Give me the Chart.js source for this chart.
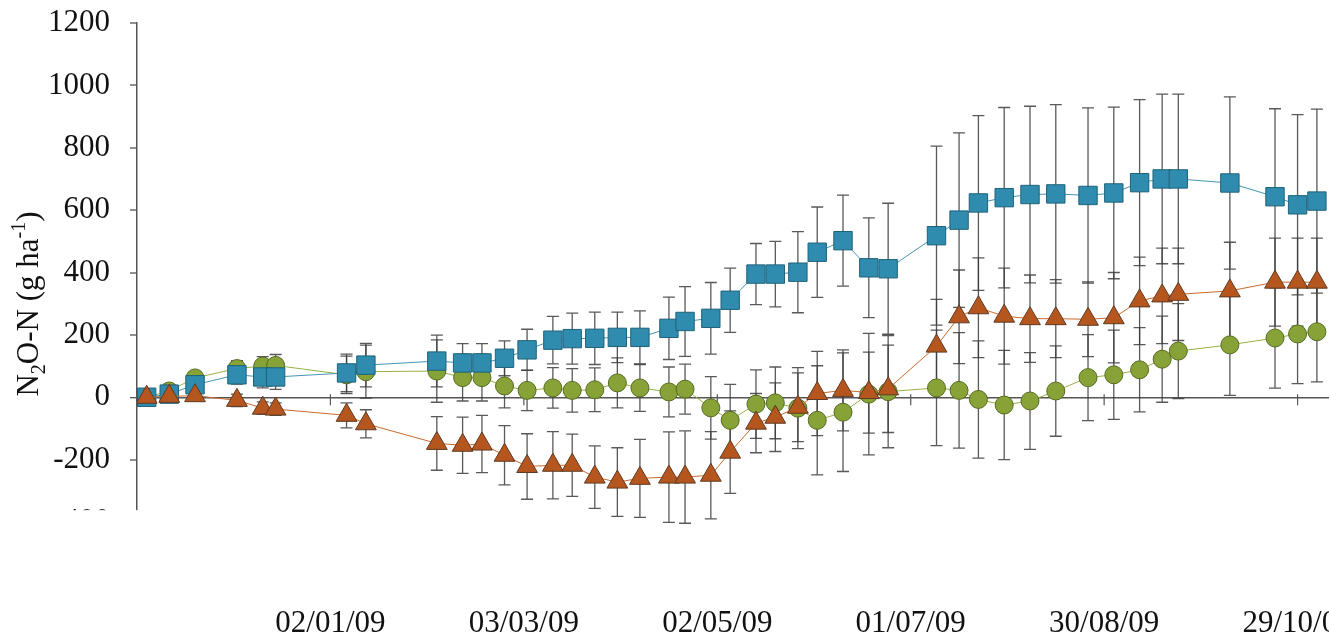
<!DOCTYPE html>
<html>
<head>
<meta charset="utf-8">
<title>N2O-N</title>
<script src="https://cdn.jsdelivr.net/npm/chart.js@4.4.1/dist/chart.umd.min.js"></script>
<style>
  html, body { margin: 0; padding: 0; background: #fff; overflow: hidden; width: 1329px; height: 638px; }
  #wrap { position: relative; width: 1700px; height: 638px; }
  canvas { display: block; }
</style>
</head>
<body>
<div id="wrap"><canvas id="chart" width="1491" height="638"></canvas></div>
<script>
// Sampling dates
const sampleDates = [
  '2008-11-06','2008-11-13','2008-11-21','2008-12-04','2008-12-12','2008-12-16',
  '2009-01-07','2009-01-13','2009-02-04','2009-02-12','2009-02-18','2009-02-25',
  '2009-03-04','2009-03-12','2009-03-18','2009-03-25','2009-04-01','2009-04-08',
  '2009-04-17','2009-04-22','2009-04-30','2009-05-06','2009-05-14','2009-05-20',
  '2009-05-27','2009-06-02','2009-06-10','2009-06-18','2009-06-24','2009-07-09',
  '2009-07-16','2009-07-22','2009-07-30','2009-08-07','2009-08-15','2009-08-25',
  '2009-09-02','2009-09-10','2009-09-17','2009-09-22','2009-10-08','2009-10-22',
  '2009-10-29','2009-11-04'
];

// Cumulative N2O-N (g ha-1), square markers
const squareValues = [
  0, 10, 40, 72, 65, 65, 78, 103, 116, 110, 110, 125,
  152, 183, 188, 189, 192, 192, 221, 243, 253, 311, 395, 395,
  401, 465, 502, 415, 412, 518, 568, 623, 640, 650, 652, 647,
  655, 688, 700, 700, 687, 643, 617, 629
];
const squareErrors = [
  10, 15, 25, 30, 35, 40, 60, 70, 83, 62, 62, 56,
  66, 76, 82, 84, 81, 85, 100, 112, 115, 103, 98, 105,
  130, 145, 146, 160, 210, 287, 280, 280, 289, 283, 286, 281,
  275, 266, 272, 272, 276, 282, 289, 295
];

// Triangle markers
const triangleValues = [
  0, 3, 5, -10, -35, -38, -58, -85, -148, -154, -150, -186,
  -222, -218, -218, -256, -272, -260, -256, -256, -250, -176, -83, -64,
  -32, 12, 22, 15, 27, 164, 258, 287, 260, 252, 252, 250,
  255, 309, 325, 330, 341, 369, 369, 369
];
const triangleErrors = [
  10, 12, 15, 20, 20, 20, 40, 45, 86, 90, 92, 95,
  105, 108, 100, 100, 110, 125, 145, 148, 140, 132, 95, 110,
  110, 135, 130, 130, 140, 150, 150, 160, 154, 140, 125, 120,
  145, 140, 153, 148, 156, 141, 141, 141
];

// Circle markers
const circleValues = [
  0, 20, 62, 92, 100, 102, 72, 82, 84, 63, 63, 36,
  22, 30, 22, 24, 46, 30, 17, 26, -34, -74, -22, -18,
  -35, -74, -48, 10, 18, 30, 22, -7, -25, -12, 20, 63,
  72, 88, 122, 148, 168, 190, 203, 210
];
const circleErrors = [
  10, 15, 20, 25, 30, 35, 60, 85, 100, 75, 75, 70,
  65, 65, 70, 70, 80, 75, 80, 80, 100, 115, 110, 115,
  130, 175, 190, 195, 180, 185, 185, 188, 175, 155, 145, 138,
  143, 135, 138, 152, 162, 161, 159, 161
];

// Date axis: labelled ticks every 60 days
const tickDates  = ['2009-01-02','2009-03-03','2009-05-02','2009-07-01','2009-08-30','2009-10-29'];
const tickLabels = ['02/01/09','03/03/09','02/05/09','01/07/09','30/08/09','29/10/09'];
const axisStart = '2008-11-03';
const axisEnd   = '2009-12-28';

// Value axis
const yMin = -400, yMax = 1200, yStep = 200;

// Axis title pieces: [text, 0 normal | -1 subscript | 1 superscript]
const yTitleParts = [['N', 0], ['2', -1], ['O-N (g ha', 0], ['-1', 1], [')', 0]];

// Plot frame: value axis width and plot width in pixels
const Y_AXIS_WIDTH = 137;
const PLOT_WIDTH = 1354;

const SERIF = "'Liberation Serif', 'Times New Roman', Times, serif";
const DAY_MS = 86400000;
const ORIGIN = Date.parse('2009-01-02');
const toDay = s => (Date.parse(s) - ORIGIN) / DAY_MS;
const points = vals => sampleDates.map((d, i) => ({ x: toDay(d), y: vals[i] }));

// Vertical error bars with caps, drawn under the series
const errorBarPlugin = {
  id: 'errorBars',
  beforeDatasetsDraw(chart) {
    const { ctx, scales: { x, y } } = chart;
    ctx.save();
    ctx.lineWidth = 1.3;
    chart.data.datasets.forEach(ds => {
      ctx.strokeStyle = ds.errorColor;
      ds.data.forEach((p, j) => {
        const e = ds.errors[j];
        const px = x.getPixelForValue(p.x);
        const yt = y.getPixelForValue(p.y + e);
        const yb = y.getPixelForValue(p.y - e);
        ctx.beginPath();
        ctx.moveTo(px, yt); ctx.lineTo(px, yb);
        ctx.moveTo(px - 6, yt); ctx.lineTo(px + 6, yt);
        ctx.moveTo(px - 6, yb); ctx.lineTo(px + 6, yb);
        ctx.stroke();
      });
    });
    ctx.restore();
  }
};

// Cross tick marks on the zero line at each date label
const zeroTicksPlugin = {
  id: 'zeroTicks',
  beforeDatasetsDraw(chart) {
    const { ctx, scales: { x, y } } = chart;
    const y0 = y.getPixelForValue(0);
    ctx.save();
    ctx.strokeStyle = '#555';
    ctx.lineWidth = 1.2;
    tickDates.forEach(d => {
      const px = x.getPixelForValue(toDay(d));
      ctx.beginPath();
      ctx.moveTo(px, y0 - 3);
      ctx.lineTo(px, y0 + 8);
      ctx.stroke();
    });
    ctx.restore();
  }
};

// Rotated y-axis title with sub/superscripts, plus the blank panel under the value axis
const decorPlugin = {
  id: 'decor',
  afterDraw(chart) {
    const { ctx, scales: { x, y } } = chart;
    // blank strip below the lower end of the value axis
    const top = y.getPixelForValue(-362);
    ctx.save();
    ctx.fillStyle = '#fff';
    ctx.fillRect(0, top, x.getPixelForValue(-30), 600 - top);
    ctx.restore();

    const fs = 31;
    const fontFor = k => (k === 0 ? fs : Math.round(fs * 0.65)) + 'px ' + SERIF;
    ctx.save();
    ctx.translate(38, 304);
    ctx.rotate(-Math.PI / 2);
    ctx.fillStyle = '#111';
    ctx.textBaseline = 'alphabetic';
    ctx.textAlign = 'left';
    let total = 0;
    yTitleParts.forEach(([t, k]) => { ctx.font = fontFor(k); total += ctx.measureText(t).width; });
    let cx = -total / 2;
    yTitleParts.forEach(([t, k]) => {
      ctx.font = fontFor(k);
      const dy = k === -1 ? fs * 0.22 : (k === 1 ? -fs * 0.42 : 0);
      ctx.fillText(t, cx, dy);
      cx += ctx.measureText(t).width;
    });
    ctx.restore();
  }
};

const common = { borderWidth: 1, tension: 0, fill: false, pointBorderWidth: 1, pointHoverRadius: 0 };

const canvas = document.getElementById('chart');
const chart = new Chart(canvas, {
  type: 'line',
  data: {
    datasets: [
      Object.assign({}, common, {
        label: 'triangles',
        data: points(triangleValues),
        errors: triangleErrors,
        errorColor: 'rgba(60,60,60,0.85)',
        borderColor: '#c96a2c',
        pointStyle: 'triangle',
        pointRadius: 12,
        pointBackgroundColor: '#b5561f',
        pointBorderColor: '#5e3a22'
      }),
      Object.assign({}, common, {
        label: 'squares',
        data: points(squareValues),
        errors: squareErrors,
        errorColor: 'rgba(60,60,60,0.85)',
        borderColor: '#4595b3',
        pointStyle: 'rect',
        pointRadius: 13,
        pointBackgroundColor: '#2f8caf',
        pointBorderColor: '#1f6279'
      }),
      Object.assign({}, common, {
        label: 'circles',
        data: points(circleValues),
        errors: circleErrors,
        errorColor: 'rgba(60,60,60,0.85)',
        borderColor: '#98b043',
        pointStyle: 'circle',
        pointRadius: 9,
        pointBackgroundColor: '#87a236',
        pointBorderColor: '#566b22'
      })
    ]
  },
  options: {
    responsive: false,
    maintainAspectRatio: false,
    animation: false,
    devicePixelRatio: 1,
    layout: { padding: { top: 23, left: 0, right: 0, bottom: 0 } },
    plugins: { legend: { display: false }, tooltip: { enabled: false }, title: { display: false } },
    scales: {
      x: {
        type: 'linear',
        position: 'bottom',
        offset: false,
        min: toDay(axisStart),
        max: toDay(axisEnd),
        afterBuildTicks: s => { s.ticks = tickDates.map(d => ({ value: toDay(d) })); },
        afterFit: s => { s.height = 116; s.paddingLeft = 0; s.paddingRight = 0; },
        grid: { display: false, drawTicks: false },
        border: { display: false },
        ticks: {
          autoSkip: false,
          maxRotation: 0,
          padding: 83,
          color: '#111',
          font: { family: SERIF, size: 31 },
          callback: (v, i) => tickLabels[i]
        }
      },
      y: {
        type: 'linear',
        min: yMin,
        max: yMax,
        afterFit: s => { s.width = Y_AXIS_WIDTH; s.paddingTop = 0; s.paddingBottom = 0; },
        border: { display: true, color: '#555', width: 1.5 },
        grid: {
          drawOnChartArea: true,
          color: c => (c.tick && c.tick.value === 0 ? '#555' : 'rgba(0,0,0,0)'),
          lineWidth: c => (c.tick && c.tick.value === 0 ? 1.4 : 0),
          tickColor: '#555',
          tickLength: 7,
          tickWidth: 1.3
        },
        ticks: {
          stepSize: yStep,
          padding: 20,
          color: '#111',
          font: { family: SERIF, size: 31 },
          callback: v => String(v)
        }
      }
    }
  },
  plugins: [errorBarPlugin, zeroTicksPlugin, decorPlugin]
});

// widen the canvas so the plot area gets its full width
const area = chart.chartArea;
const missing = PLOT_WIDTH - (area.right - area.left);
if (Math.abs(missing) > 0.5) {
  chart.resize(Math.round(canvas.width + missing), 638);
}
</script>
</body>
</html>
